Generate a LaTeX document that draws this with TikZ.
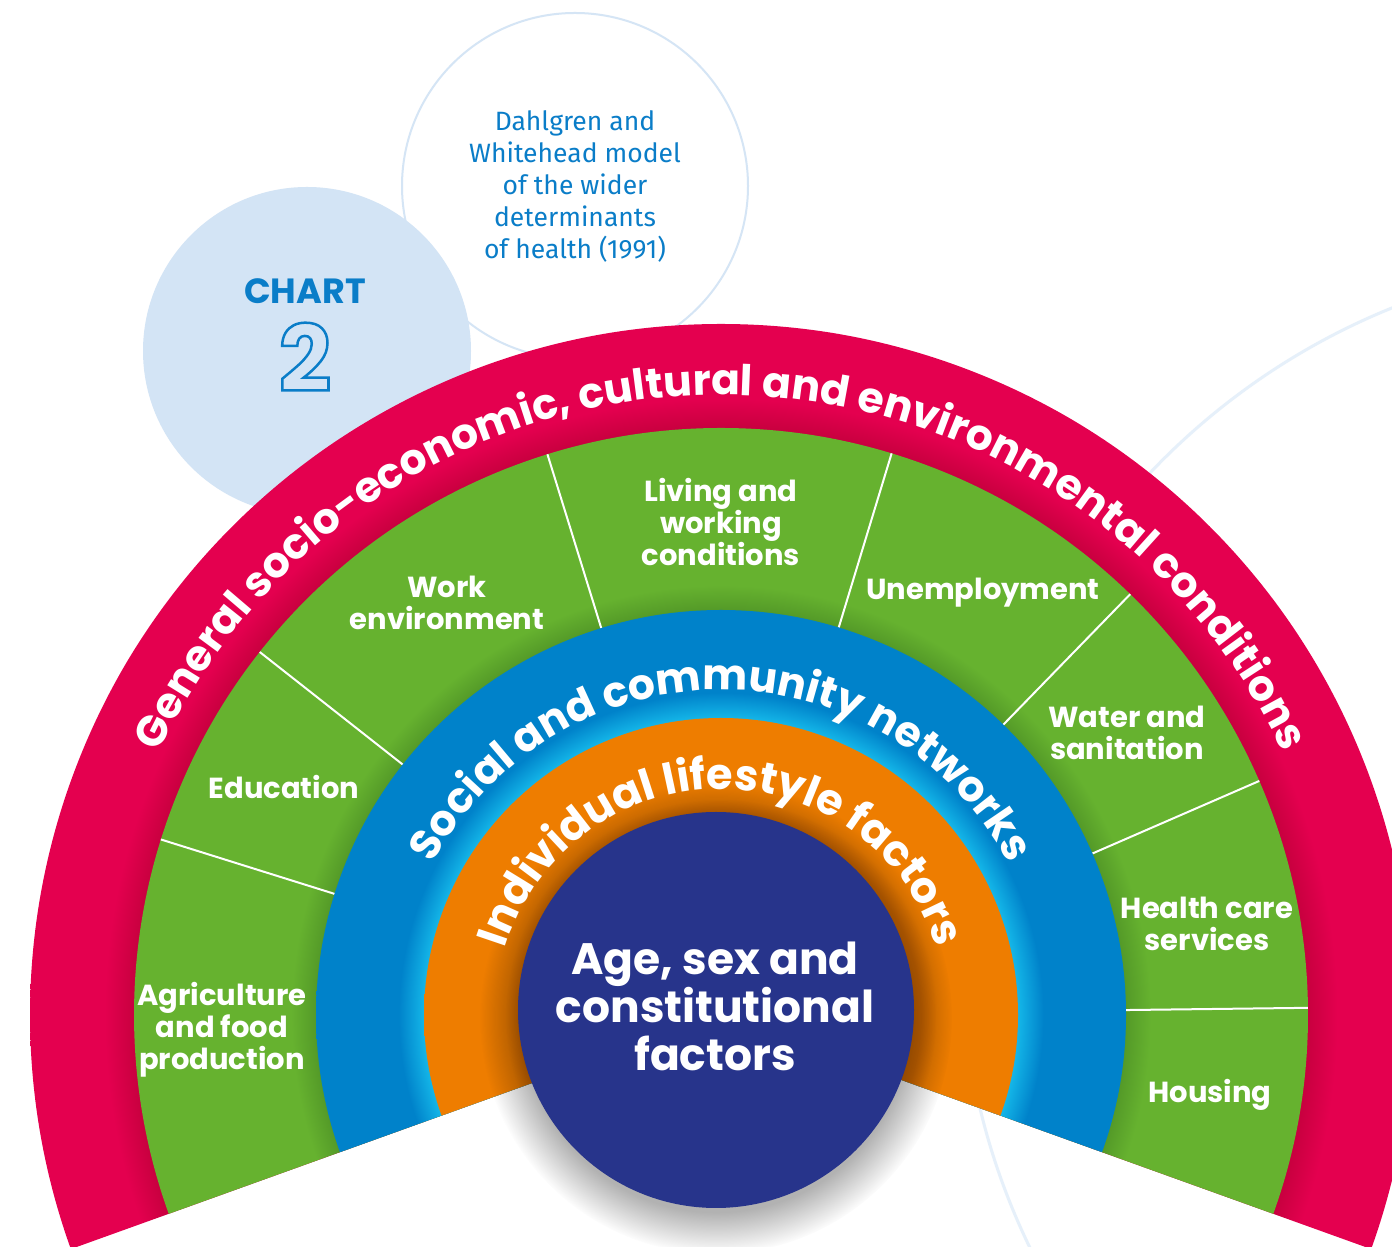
\documentclass[tikz,border=0pt]{standalone}
\usepackage{fontspec}
\setmainfont{Poppins}
\newfontfamily\descfont{Fira Sans}
\usetikzlibrary{decorations.text,fadings,calc}

\definecolor{ringred}{HTML}{E4004F}
\definecolor{ringreddk}{HTML}{C8003F}
\definecolor{ringgreen}{HTML}{66B22F}
\definecolor{ringgreendk}{HTML}{549A28}
\definecolor{ringblue}{HTML}{0082CA}
\definecolor{ringcyan}{HTML}{14B6E8}
\definecolor{ringorange}{HTML}{EE7D00}
\definecolor{ringorangedk}{HTML}{D46A00}
\definecolor{navy}{HTML}{27348B}
\definecolor{chartbg}{HTML}{D3E4F5}
\definecolor{chartblue}{HTML}{0A7DC8}
\definecolor{circline}{HTML}{D5E5F5}
\definecolor{faintline}{HTML}{E6F0FA}

% TikZ maps the path bounding box onto the central 50bp square of a shading
\pgfdeclareradialshading{redring}{\pgfpoint{0bp}{0bp}}{color(0bp)=(ringreddk); color(21.24bp)=(ringreddk); color(22.3bp)=(ringred); color(25bp)=(ringred); color(50bp)=(ringred)}
\pgfdeclareradialshading{greenring}{\pgfpoint{0bp}{0bp}}{color(0bp)=(ringgreendk); color(17.25bp)=(ringgreendk); color(18.3bp)=(ringgreen); color(25bp)=(ringgreen); color(50bp)=(ringgreen)}
\pgfdeclareradialshading{bluering}{\pgfpoint{0bp}{0bp}}{color(0bp)=(ringcyan); color(18.33bp)=(ringcyan); color(19.9bp)=(ringblue); color(25bp)=(ringblue); color(50bp)=(ringblue)}
\pgfdeclareradialshading{orangering}{\pgfpoint{0bp}{0bp}}{color(0bp)=(ringorangedk); color(16.84bp)=(ringorangedk); color(18.2bp)=(ringorange); color(25bp)=(ringorange); color(50bp)=(ringorange)}
\pgfdeclareradialshading{navyshadowshade}{\pgfpoint{0bp}{0bp}}{color(0bp)=(white); color(20.5bp)=(white); color(25bp)=(black); color(50bp)=(black)}
\pgfdeclarefading{navyshadow}{\pgfuseshading{navyshadowshade}}

\tikzset{
  seglabel/.style={text=white, font=\bfseries\fontsize{29}{32}\selectfont, align=center, inner sep=0pt},
  divider/.style={draw=white, line width=2pt},
}

\begin{document}
\begin{tikzpicture}[x=1pt,y=1pt]
\useasboundingbox (0,0) rectangle (1392,1247);
\fill[white] (0,0) rectangle (1392,1247);
\coordinate (C) at (721,232);
\coordinate (N) at (716,237);

% faint background circle
\draw[faintline, line width=3pt] (1650,300) circle[radius=689];

% description circle
\node[circle, fill=white, draw=circline, line width=2pt, minimum size=346pt, inner sep=0pt] (desccircle) at (575,1061) {};
\node[text=chartblue, align=center, font=\descfont\fontsize{26.5}{32}\selectfont] (desc) at (575,1061)
  {Dahlgren and\\Whitehead model\\of the wider\\determinants\\of health (1991)};

% chart circle
\node[circle, fill=chartbg, minimum size=328pt, inner sep=0pt] (chartcircle) at (307,896) {};
\node[text=chartblue, font=\bfseries\fontsize{35}{35}\selectfont, inner sep=0pt] (chartword) at (305,956) {CHART};
\node[text=chartblue, font=\bfseries\fontsize{92}{92}\selectfont, inner sep=0pt] (chartnum) at (305,890)
  {\special{pdf:literal direct 1 Tr 2.5 w}2\special{pdf:literal direct 0 Tr 1 w}};

% rings
\begin{scope}
  \clip (C) -- ++(-19.8:691) arc[start angle=-19.8, end angle=199.8, radius=691] -- cycle;
  \shade[shading=redring] (C) circle[radius=691];
\end{scope}
\begin{scope}
  \clip (C) -- ++(-19.8:587) arc[start angle=-19.8, end angle=199.8, radius=587] -- cycle;
  \shade[shading=greenring] (C) circle[radius=587];
\end{scope}
\foreach \a in {162.6,141.8,107.2,73.1,45.8,23.5,0.7}
  \draw[divider] ($(C)+(\a:405)$) -- ($(C)+(\a:587)$);
\begin{scope}
  \clip (C) -- ++(-19.8:405) arc[start angle=-19.8, end angle=199.8, radius=405] -- cycle;
  \shade[shading=bluering] (C) circle[radius=405];
\end{scope}
\begin{scope}
  \clip (C) -- ++(-19.8:297) arc[start angle=-19.8, end angle=199.8, radius=297] -- cycle;
  \shade[shading=orangering] (C) circle[radius=297];
\end{scope}

% core circle with soft shadow
\fill[black, opacity=0.3, path fading=navyshadow] ($(N)+(0,-8)$) circle[radius=236];
\node[circle, fill=navy, minimum size=396pt, inner sep=0pt] (core) at (N) {};
\node[text=white, align=center, font=\bfseries\fontsize{44}{48}\selectfont] (coretext) at (715,241)
  {Age, sex and\\constitutional\\factors};

% curved ring titles
\path[decorate, decoration={text along path, text align=center, text color=white,
  text={|\bfseries\fontsize{42.5}{42.5}\selectfont|General socio-economic, cultural and environmental conditions}}]
  (C) ++(178:620) arc[start angle=178, end angle=2, radius=620];
\path[decorate, decoration={text along path, text align=center, text color=white,
  text={|\bfseries\fontsize{42.5}{42.5}\selectfont|Social and community networks}}]
  (C) ++(178:325) arc[start angle=178, end angle=2, radius=325];
\path[decorate, decoration={text along path, text align=center, text color=white,
  text={|\bfseries\fontsize{43}{43}\selectfont|Individual lifestyle factors}}]
  (C) ++(178:226) arc[start angle=178, end angle=2, radius=226];

% segment labels
\node[seglabel] (agri) at (222,217) {Agriculture\\and food\\production};
\node[seglabel] (edu) at (284,460) {Education};
\node[seglabel] (work) at (447,644) {Work\\environment};
\node[seglabel] (living) at (721,725) {Living and\\working\\conditions};
\node[seglabel] (unemp) at (983,654) {Unemployment};
\node[seglabel] (water) at (1127,514) {Water and\\sanitation};
\node[seglabel] (health) at (1207,323) {Health care\\services};
\node[seglabel] (housing) at (1210,152) {Housing};
\end{tikzpicture}
\end{document}
